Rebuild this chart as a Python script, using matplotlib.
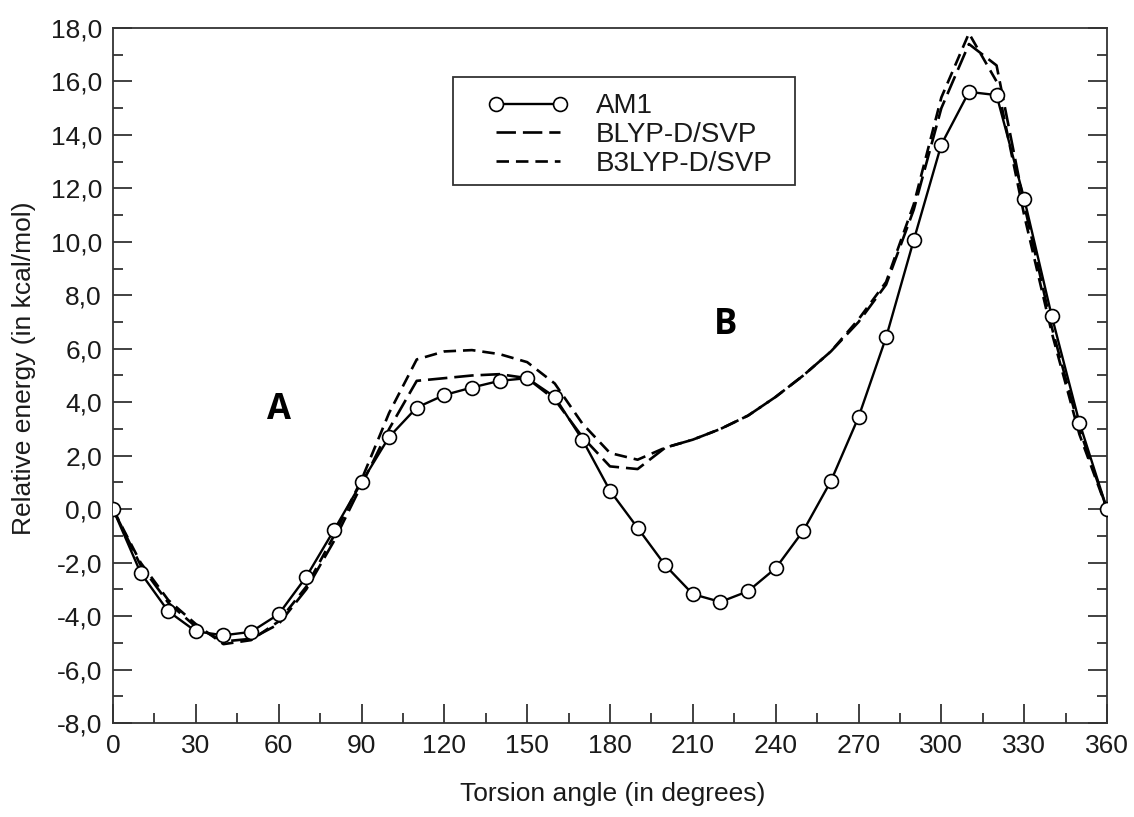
import matplotlib
matplotlib.use("Agg")
import matplotlib.pyplot as plt
from matplotlib.ticker import MultipleLocator, FuncFormatter
from matplotlib.patches import Rectangle

plt.rcParams['font.family'] = ['Liberation Sans', 'DejaVu Sans']
plt.rcParams['lines.scale_dashes'] = False

# ---- data ----
angles = list(range(0, 361, 10))
am1 = [0.0, -2.38, -3.82, -4.57, -4.72, -4.59, -3.93, -2.53, -0.79, 1.0,
       2.7, 3.8, 4.27, 4.55, 4.8, 4.9, 4.2, 2.6, 0.69, -0.7,
       -2.1, -3.18, -3.47, -3.07, -2.21, -0.81, 1.05, 3.44, 6.43, 10.06,
       13.64, 15.61, 15.49, 11.62, 7.22, 3.24, 0.0]
blyp = [0.0, -2.1, -3.5, -4.4, -4.95, -4.85, -4.3, -3.0, -1.2, 0.9,
        3.0, 4.8, 4.9, 5.0, 5.05, 4.9, 4.1, 2.7, 1.6, 1.5,
        2.3, 2.6, 3.0, 3.5, 4.2, 5.0, 5.9, 7.0, 8.4, 11.2,
        15.0, 17.4, 16.6, 11.4, 6.8, 3.0, 0.0]
b3lyp = [0.0, -2.0, -3.4, -4.3, -5.05, -4.9, -4.2, -2.9, -1.0, 1.1,
         3.6, 5.6, 5.9, 5.95, 5.8, 5.5, 4.7, 3.2, 2.1, 1.85,
         2.3, 2.6, 3.0, 3.5, 4.2, 5.0, 5.9, 7.1, 8.5, 11.4,
         15.4, 17.8, 16.0, 11.0, 6.6, 2.8, 0.0]
series_labels = ['AM1', 'BLYP-D/SVP', 'B3LYP-D/SVP']
xticks = list(range(0, 361, 30))
yticks = list(range(-8, 19, 2))
annotations = [('A', 60, 3.7), ('B', 222, 6.9)]

fig = plt.figure(figsize=(11.34, 8.17), dpi=100)
ax = fig.add_axes([113/1134, 1-723/817, (1107-113)/1134, (723-28)/817])

ax.plot(angles, am1, color='black', lw=1.7, marker='o', ms=10,
        mfc='white', mec='black', mew=1.2, label=series_labels[0], zorder=3)
ax.plot(angles, blyp, color='black', lw=1.9, dashes=(14, 5),
        label=series_labels[1], zorder=2)
ax.plot(angles, b3lyp, color='black', lw=1.9, dashes=(9, 5),
        label=series_labels[2], zorder=2)

ax.set_xlim(0, 360)
ax.set_ylim(-8, 18)
ax.set_xticks(xticks)
ax.set_yticks(yticks)
ax.xaxis.set_minor_locator(MultipleLocator(15))
ax.yaxis.set_minor_locator(MultipleLocator(1))
ax.yaxis.set_major_formatter(FuncFormatter(lambda v, p: f"{v:.1f}".replace('.', ',')))

ax.tick_params(which='both', direction='in', right=True, top=False,
               labelsize=19, labelcolor='#1a1a1a', color='#333333', width=1.3)
ax.tick_params(which='major', length=14, pad=8)
ax.tick_params(which='minor', length=7)
for s in ax.spines.values():
    s.set_linewidth(1.3)
    s.set_color('#333333')

ax.set_xlabel('Torsion angle (in degrees)', fontsize=19, color='#1a1a1a')
ax.set_ylabel('Relative energy (in kcal/mol)', fontsize=19, color='#1a1a1a')
ax.xaxis.set_label_coords(0.503, -0.085)
ax.yaxis.set_label_coords(-0.0775, 0.51)

for txt, x, y in annotations:
    ax.text(x, y, txt, fontsize=25, fontweight='bold', family='Open Sans',
            ha='center', va='center', color='black')

# legend frame drawn separately so its padding can match the reference
ax.add_patch(Rectangle((0.342, 0.774), 0.344, 0.1555, transform=ax.transAxes,
                       facecolor='white', edgecolor='#333333', lw=1.3, zorder=4))
leg = ax.legend(loc='upper left', bbox_to_anchor=(0.3773, 0.906), fontsize=20,
                frameon=False, numpoints=2, handlelength=2.88,
                handletextpad=1.0, borderpad=0, labelspacing=0.1,
                borderaxespad=0)
leg.set_zorder(5)
for t in leg.get_texts():
    t.set_color('#1a1a1a')

fig.savefig('out.png', dpi=100, facecolor='white')
